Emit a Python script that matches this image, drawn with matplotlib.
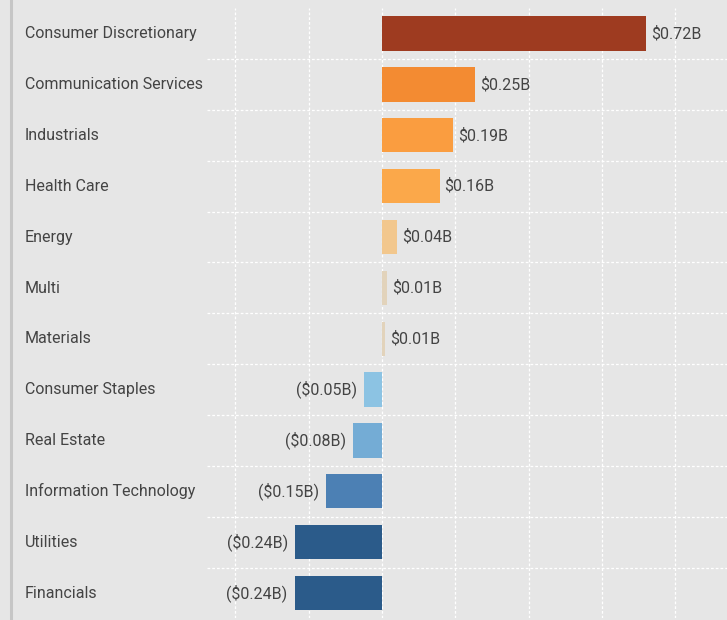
import matplotlib
matplotlib.use('Agg')
import matplotlib.pyplot as plt
from matplotlib.lines import Line2D
import numpy as np

# sector flows, in billions
sectors = ['Consumer Discretionary', 'Communication Services', 'Industrials',
           'Health Care', 'Energy', 'Multi', 'Materials', 'Consumer Staples',
           'Real Estate', 'Information Technology', 'Utilities', 'Financials']
values = [0.72, 0.254, 0.194, 0.157, 0.040, 0.013, 0.009,
          -0.049, -0.079, -0.152, -0.236, -0.238]
colors = ['#9e3b20', '#f38b32', '#fa9d40', '#fba84a', '#f2c78d', '#e2d3bb',
          '#e2d3bb', '#8cc3e3', '#74acd5', '#4c80b4', '#2b5b8a', '#2b5b8a']

bg = '#e6e6e6'
txt = '#444444'
plt.rcParams['font.family'] = ['Roboto', 'DejaVu Sans']

fig = plt.figure(figsize=(7.27, 6.2), dpi=100, facecolor=bg)
W, H = 727, 620
ax = fig.add_axes([206.7 / W, 1.6 / H, 1 - 206.7 / W, (618.4 - 8.2) / H])
ax.set_facecolor(bg)

y = np.arange(len(sectors))
ax.barh(y, values, height=0.675, color=colors, zorder=3)
ax.set_ylim(len(sectors) - 0.5, -0.5)
ax.set_xlim(-0.478, 0.941)

# dashed white grid
ax.set_xticks([-0.4, -0.2, 0, 0.2, 0.4, 0.6, 0.8])
ax.set_yticks(y[:-1] + 0.5)
ax.grid(True, color='white', linestyle=(0, (2.2, 1.6)), linewidth=0.9, zorder=0)
ax.tick_params(length=0, labelbottom=False, labelleft=False)
for s in ax.spines.values():
    s.set_visible(False)

# value labels
for i, v in enumerate(values):
    if v >= 0:
        ax.annotate('$%.2fB' % v, (v, i), xytext=(5, 0), textcoords='offset pixels',
                    ha='left', va='center', color=txt, fontsize=11.5)
    else:
        ax.annotate('($%.2fB)' % abs(v), (v, i), xytext=(-7, 0), textcoords='offset pixels',
                    ha='right', va='center', color=txt, fontsize=11.5)

# category labels on the left
for i, name in enumerate(sectors):
    fy = 1 - (33.8 + i * 50.84) / H
    fig.text(25 / W, fy, name, ha='left', va='center', color=txt, fontsize=11.5)

# left border
fig.add_artist(Line2D([10.5 / W, 10.5 / W], [0, 1], color='#c6c6c6', linewidth=2.2))

fig.savefig('out.png', dpi=100, facecolor=bg)
